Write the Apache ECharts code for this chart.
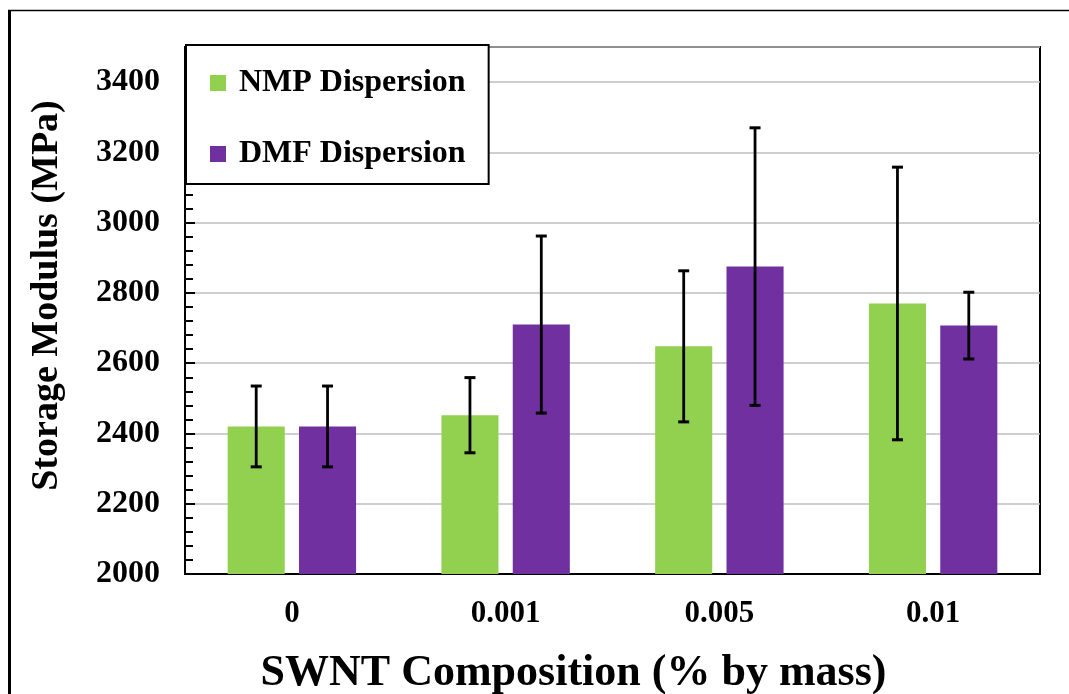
<!DOCTYPE html>
<html>
<head>
<meta charset="utf-8">
<script src="https://cdn.jsdelivr.net/npm/echarts@6/dist/echarts.min.js"></script>
<style>
  html, body { margin: 0; padding: 0; background: #fff; }
  #chart { width: 1069px; height: 694px; }
</style>
</head>
<body>
<div id="chart"></div>
<script>
// ---- data ----
const categories = ['0', '0.001', '0.005', '0.01'];
const seriesNames = ['NMP Dispersion', 'DMF Dispersion'];
const nmpMean = [2420, 2452, 2648, 2770];
const nmpErr  = [115, 107, 215, 388];
const dmfMean = [2420, 2710, 2875, 2707];
const dmfErr  = [115, 252, 395, 95];
const yMin = 2000, yMax = 3500, yStep = 200;

const FONT = "'Liberation Serif', 'Times New Roman', serif";
const BAR_W = 0.267, BAR_GAP = 0.25;

function errData(mean, err) {
  return mean.map((m, i) => [i, m - err[i], m + err[i]]);
}

function errRender(side) {
  return function (params, api) {
    const idx = api.value(0);
    const lo = api.coord([idx, api.value(1)]);
    const hi = api.coord([idx, api.value(2)]);
    const band = api.size([1, 0])[0];
    const off = band * BAR_W * (1 + BAR_GAP) / 2 * side;
    const x = lo[0] + off;
    const cap = 5.5;
    const style = { stroke: '#000', lineWidth: 2.8 };
    return {
      type: 'group',
      children: [
        { type: 'line', shape: { x1: x, y1: hi[1], x2: x, y2: lo[1] }, style },
        { type: 'line', shape: { x1: x - cap, y1: hi[1], x2: x + cap, y2: hi[1] }, style: { stroke: '#000', lineWidth: 3 } },
        { type: 'line', shape: { x1: x - cap, y1: lo[1], x2: x + cap, y2: lo[1] }, style: { stroke: '#000', lineWidth: 3 } }
      ]
    };
  };
}

const chart = echarts.init(document.getElementById('chart'), null, { renderer: 'canvas' });
chart.setOption({
  animation: false,
  backgroundColor: '#fff',
  textStyle: { fontFamily: FONT },
  grid: {
    left: 185, right: 29, top: 47, bottom: 120,
    containLabel: false, outerBoundsMode: 'none',
    show: true, borderColor: '#000', borderWidth: 2, backgroundColor: 'transparent'
  },
  graphic: [
    { type: 'line', shape: { x1: 9.5, y1: 10, x2: 9.5, y2: 700 }, style: { stroke: '#000', lineWidth: 3 }, z: 10 },
    { type: 'line', shape: { x1: 8, y1: 10.5, x2: 1069, y2: 10.5 }, style: { stroke: '#000', lineWidth: 1.5 }, z: 10 }
  ],
  legend: {
    data: seriesNames,
    orient: 'vertical',
    left: 186, top: 45,
    padding: [22, 23, 14, 24],
    itemGap: 39,
    itemWidth: 16, itemHeight: 16,
    icon: 'rect',
    backgroundColor: '#fff',
    borderColor: '#000', borderWidth: 2,
    textStyle: { fontFamily: FONT, fontWeight: 'bold', fontSize: 32, color: '#000', lineHeight: 30, padding: [0, 0, 0, 8] },
    z: 20
  },
  xAxis: {
    type: 'category',
    data: categories,
    name: 'SWNT Composition (% by mass)',
    nameLocation: 'middle',
    nameGap: 78,
    nameTextStyle: { fontFamily: FONT, fontWeight: 'bold', fontSize: 44, color: '#000', padding: [0, 78, 0, 0] },
    axisLine: { show: true, lineStyle: { color: '#000', width: 2 } },
    axisTick: { show: false },
    axisLabel: { fontFamily: FONT, fontWeight: 'bold', fontSize: 31, color: '#000', margin: 24 },
    splitLine: { show: false }
  },
  yAxis: {
    type: 'value',
    min: yMin, max: yMax, interval: yStep,
    name: 'Storage Modulus (MPa)',
    nameLocation: 'middle',
    nameGap: 119,
    nameTextStyle: { fontFamily: FONT, fontWeight: 'bold', fontSize: 38, color: '#000', padding: [0, 0, 0, 30] },
    axisLine: { show: true, lineStyle: { color: '#000', width: 2 } },
    axisTick: { show: true, inside: true, length: 10, lineStyle: { color: '#000', width: 2 } },
    minorTick: { show: true, splitNumber: 5, length: 8, lineStyle: { color: '#000', width: 2 } },
    axisLabel: {
      fontFamily: FONT, fontWeight: 'bold', fontSize: 32, color: '#000', margin: 25,
      formatter: v => ((v - yMin) % yStep === 0 && v < yMax) ? String(v) : ''
    },
    splitLine: { show: true, lineStyle: { color: '#BFBFBF', width: 1.5 } }
  },
  series: [
    {
      name: seriesNames[0], type: 'bar', data: nmpMean,
      barWidth: (BAR_W * 100) + '%', barGap: (BAR_GAP * 100) + '%',
      itemStyle: { color: '#92D050' }, z: 2
    },
    {
      name: seriesNames[1], type: 'bar', data: dmfMean,
      barWidth: (BAR_W * 100) + '%', barGap: (BAR_GAP * 100) + '%',
      itemStyle: { color: '#7030A0' }, z: 2
    },
    {
      type: 'custom', name: 'nmpErr', data: errData(nmpMean, nmpErr),
      renderItem: errRender(-1), encode: { x: 0, y: [1, 2] }, z: 5, silent: true
    },
    {
      type: 'custom', name: 'dmfErr', data: errData(dmfMean, dmfErr),
      renderItem: errRender(1), encode: { x: 0, y: [1, 2] }, z: 5, silent: true
    }
  ]
});
</script>
</body>
</html>
